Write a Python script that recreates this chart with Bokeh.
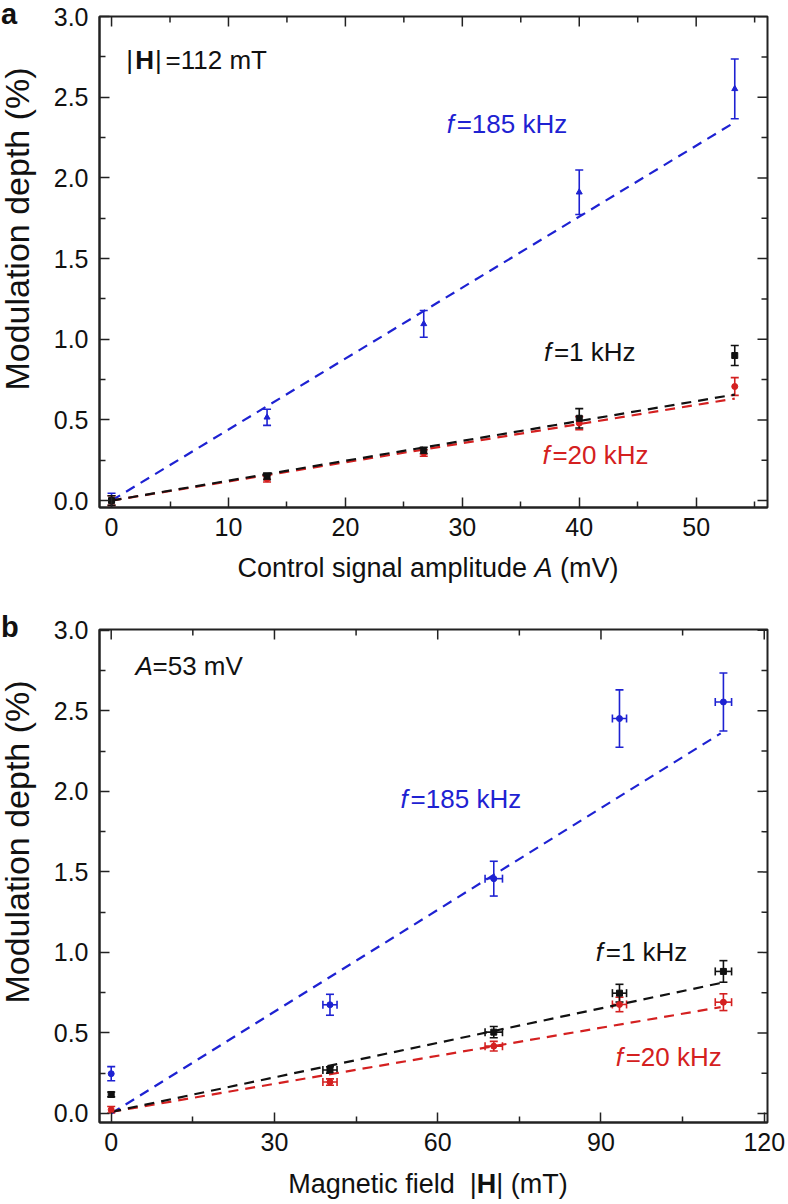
import math
from bokeh.plotting import figure
from bokeh.models import (ColumnDataSource, Whisker, TeeHead, Label, Div,
                          FixedTicker, Range1d, NumeralTickFormatter)
from bokeh.layouts import column, row
from bokeh.embed import file_html
from bokeh.resources import INLINE

FONT = "Liberation Sans"
BLUE = "#1e22d2"
RED = "#d42020"
BLACK = "#111111"

# panel a: modulation depth vs control signal amplitude (|H| = 112 mT)
amp = [0, 13.3, 26.7, 40, 53.3]
a_blue = [0.0, 0.516, 1.095, 1.911, 2.552]
a_blue_err = [0.045, 0.05, 0.083, 0.138, 0.185]
a_black = [0.0, 0.15, 0.31, 0.51, 0.899]
a_black_err = [0.03, 0.02, 0.02, 0.06, 0.062]
a_red = [0.0, 0.135, 0.295, 0.48, 0.707]
a_red_err = [0.03, 0.02, 0.02, 0.04, 0.055]
a_fit_x = [0, 53.3]
a_fit_blue = [0.0, 2.345]
a_fit_black = [0.0, 0.657]
a_fit_red = [0.0, 0.632]

# panel b: modulation depth vs magnetic field (A = 53 mV)
field = [0, 40.2, 70.3, 93.4, 112.5]
field_err = [0, 1.3, 1.6, 1.3, 1.5]
b_blue = [0.247, 0.675, 1.458, 2.452, 2.555]
b_blue_err = [0.044, 0.065, 0.108, 0.178, 0.18]
b_black = [0.118, 0.27, 0.505, 0.747, 0.882]
b_black_err = [0.015, 0.02, 0.035, 0.055, 0.067]
b_red = [0.023, 0.195, 0.418, 0.677, 0.691]
b_red_err = [0.02, 0.02, 0.03, 0.045, 0.052]
b_fit_x = [0, 112]
b_fit_blue = [0.0, 2.36]
b_fit_black = [0.01, 0.81]
b_fit_red = [0.01, 0.66]

# ticks
a_xticks = [0, 10, 20, 30, 40, 50]
a_xminor = [5, 15, 25, 35, 45, 55]
b_xticks = [0, 30, 60, 90, 120]
b_xminor = [15, 45, 75, 105]
yticks = [0, 0.5, 1.0, 1.5, 2.0, 2.5, 3.0]
yminor = [0.25, 0.75, 1.25, 1.75, 2.25, 2.75]

CSS_FONT = "font-family:'Liberation Sans',sans-serif;color:#111;"


def lab(p, x, y, text, color=BLACK, style="normal", align="left", dx=0):
    p.add_layout(Label(x=x, y=y, text=text, text_font=FONT,
                       text_font_size="26px", text_font_style=style,
                       text_color=color, text_align=align,
                       text_baseline="middle", x_offset=dx))


def side_div(letter, letter_top, label_y, height):
    # panel letter and rotated y-axis title, to the left of the plot
    html = (
        f'<div style="position:relative;width:50px;height:{height}px;{CSS_FONT}">'
        f'<div style="position:absolute;left:1px;top:{letter_top}px;'
        f'font-size:29px;font-weight:bold;line-height:29px">{letter}</div>'
        f'<div style="position:absolute;left:17px;top:{label_y}px;'
        f'transform:translate(-50%,-50%) rotate(-90deg);white-space:nowrap;'
        f'font-size:34px;line-height:34px">Modulation depth (%)</div></div>')
    return Div(text=html, width=50, height=height, margin=0)


def xlabel_div(html, height):
    return Div(text=(f'<div style="width:668px;margin-left:94px;'
                     f'text-align:center;white-space:nowrap;{CSS_FONT}'
                     f'font-size:27px;line-height:{height}px">{html}</div>'),
               width=788, height=height, margin=0)


def make_fig(height, top, bottom, xr, yr, xt, xm):
    p = figure(width=738, height=height, x_range=Range1d(*xr),
               y_range=Range1d(*yr), output_backend="svg",
               toolbar_location=None, min_border_left=49,
               min_border_right=21, min_border_top=top,
               min_border_bottom=bottom, margin=0)
    p.grid.visible = False
    p.outline_line_color = "#222222"
    p.outline_line_width = 2
    p.xaxis.ticker = FixedTicker(ticks=xt, minor_ticks=xm)
    p.yaxis.ticker = FixedTicker(ticks=yticks, minor_ticks=yminor)
    p.yaxis.formatter = NumeralTickFormatter(format="0.0")
    for ax in p.axis:
        ax.axis_line_width = 2
        ax.axis_line_color = "#222222"
        ax.major_tick_in = 10
        ax.major_tick_out = 0
        ax.minor_tick_in = 6
        ax.minor_tick_out = 0
        ax.major_tick_line_width = 1.5
        ax.minor_tick_line_width = 1.5
        ax.major_tick_line_color = "#222222"
        ax.minor_tick_line_color = "#222222"
        ax.major_label_text_font = FONT
        ax.major_label_text_font_size = "25px"
        ax.major_label_text_color = "#111111"
    p.xaxis.major_label_standoff = 10
    p.yaxis.major_label_standoff = 11
    # mirrored inward ticks on the top and right edges
    xmax, ymax = xr[1], yr[1]
    for ticks, ln in ((xt, 10), (xm, 6)):
        p.ray(x=ticks, y=[ymax] * len(ticks), length=ln, length_units="screen",
              angle=-math.pi / 2, line_color="#222222", line_width=1.5)
    for ticks, ln in ((yticks, 10), (yminor, 6)):
        p.ray(x=[xmax] * len(ticks), y=ticks, length=ln, length_units="screen",
              angle=math.pi, line_color="#222222", line_width=1.5)
    return p


def whisker(src, base, dim, color):
    return Whisker(source=src, base=base, lower="lo", upper="hi",
                   dimension=dim, line_color=color, line_width=1.6,
                   upper_head=TeeHead(size=8, line_color=color, line_width=1.6),
                   lower_head=TeeHead(size=8, line_color=color, line_width=1.6))


def series(p, x, y, err, color, marker, xerr=None):
    src = ColumnDataSource(dict(
        x=x, y=y,
        lo=[v - e for v, e in zip(y, err)],
        hi=[v + e for v, e in zip(y, err)]))
    p.add_layout(whisker(src, "x", "height", color))
    if xerr is not None:
        hs = ColumnDataSource(dict(
            y=y[1:],
            lo=[v - e for v, e in zip(x[1:], xerr[1:])],
            hi=[v + e for v, e in zip(x[1:], xerr[1:])]))
        p.add_layout(whisker(hs, "y", "width", color))
    p.scatter("x", "y", source=src, marker=marker, size=6, color=color)


def fit(p, x, y, color):
    p.line(x, y, line_color=color, line_width=2.2, line_dash="10 7")


# ---- panel a
pa = make_fig(550, 16, 43, (-1.03, 56.1), (-0.043, 3.0005),
              a_xticks, a_xminor)
fit(pa, a_fit_x, a_fit_blue, BLUE)
fit(pa, a_fit_x, a_fit_red, RED)
fit(pa, a_fit_x, a_fit_black, BLACK)
series(pa, amp, a_blue, a_blue_err, BLUE, "triangle")
series(pa, amp, a_red, a_red_err, RED, "circle")
series(pa, amp, a_black, a_black_err, BLACK, "square")

lab(pa, 1.54, 2.728, "|", align="center")
lab(pa, 2.82, 2.728, "H", style="bold", align="center")
lab(pa, 4.01, 2.728, "|", align="center")
lab(pa, 4.62, 2.728, "=112 mT")
lab(pa, 28.66, 2.335, "f", BLUE, "italic")
lab(pa, 28.66, 2.335, "=185 kHz", BLUE, dx=10)
lab(pa, 36.98, 0.919, "f", BLACK, "italic")
lab(pa, 36.98, 0.919, "=1 kHz", BLACK, dx=10)
lab(pa, 36.85, 0.285, "f", RED, "italic")
lab(pa, 36.85, 0.285, "=20 kHz", RED, dx=10)

# ---- panel b
pb = make_fig(579, 43, 43, (-2.15, 120.6), (-0.056, 3.005),
              b_xticks, b_xminor)
fit(pb, b_fit_x, b_fit_blue, BLUE)
fit(pb, b_fit_x, b_fit_red, RED)
fit(pb, b_fit_x, b_fit_black, BLACK)
series(pb, field, b_blue, b_blue_err, BLUE, "circle", field_err)
series(pb, field, b_red, b_red_err, RED, "circle", field_err)
series(pb, field, b_black, b_black_err, BLACK, "square", field_err)

lab(pb, 4.47, 2.776, "A", BLACK, "italic")
lab(pb, 4.47, 2.776, "=53 mV", BLACK, dx=17)
lab(pb, 53.18, 1.955, "f", BLUE, "italic")
lab(pb, 53.18, 1.955, "=185 kHz", BLUE, dx=10)
lab(pb, 89.03, 1.002, "f", BLACK, "italic")
lab(pb, 89.03, 1.002, "=1 kHz", BLACK, dx=10)
lab(pb, 92.7, 0.35, "f", RED, "italic")
lab(pb, 92.7, 0.35, "=20 kHz", RED, dx=10)

page = column(
    row(side_div("a", 0, 229, 550), pa, spacing=0),
    xlabel_div("Control signal amplitude <i>A</i> (mV)", 36),
    row(side_div("b", 27, 256, 579), pb, spacing=0),
    xlabel_div("Magnetic field&nbsp;&nbsp;|<b>H</b>|&nbsp;(mT)", 39),
    spacing=0)
open("out.html", "w").write(file_html(page, INLINE))
